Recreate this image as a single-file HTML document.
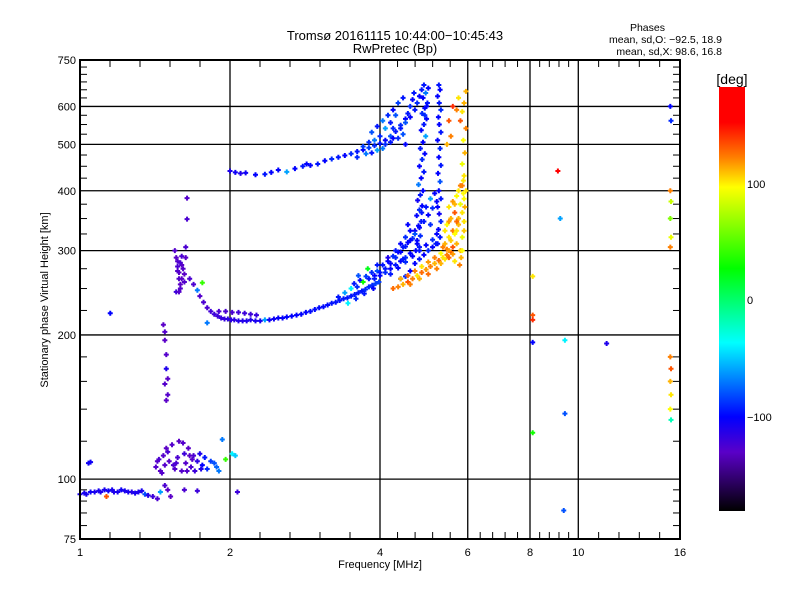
<!DOCTYPE html>
<html><head><meta charset="utf-8"><style>
body{margin:0;background:#fff}
svg{display:block;font-family:"Liberation Sans","DejaVu Sans",sans-serif}
</style></head><body>
<svg id="chart" width="800" height="600" viewBox="0 0 800 600">
<rect width="800" height="600" fill="#fff"/>
<text x="395" y="40" font-size="13" text-anchor="middle">Tromsø 20161115 10:44:00−10:45:43</text>
<text x="395" y="53" font-size="13" text-anchor="middle">RwPretec (Bp)</text>
<g font-size="10.5" text-anchor="end">
<text x="665" y="31">Phases</text>
<text x="722" y="43">mean, sd,O: −92.5, 18.9</text>
<text x="722" y="55">mean, sd,X:  98.6, 16.8</text>
</g>
<g id="grid"></g>
<g id="marks"></g>
<g id="axes"></g>
<text x="380" y="568" font-size="11" text-anchor="middle">Frequency [MHz]</text>
<text transform="translate(48,300) rotate(-90)" font-size="11" text-anchor="middle">Stationary phase Virtual Height [km]</text>
<defs><linearGradient id="cb" x1="0" y1="1" x2="0" y2="0">
<stop offset="0" stop-color="#000"/><stop offset="0.139" stop-color="#5a00c8"/><stop offset="0.222" stop-color="#0000ff"/><stop offset="0.397" stop-color="#00ffff"/><stop offset="0.572" stop-color="#00ff00"/><stop offset="0.764" stop-color="#ffff00"/><stop offset="0.833" stop-color="#ff8000"/><stop offset="0.917" stop-color="#ff0000"/><stop offset="1" stop-color="#ff0000"/>
</linearGradient></defs>
<rect x="719" y="87" width="26" height="424" fill="url(#cb)"/>
<text x="732" y="84" font-size="14" text-anchor="middle">[deg]</text>
<g font-size="11">
<text x="747" y="188">100</text>
<text x="747" y="304">0</text>
<text x="747" y="421">−100</text>
</g>
</svg>
<script>
const xTickValues=[1,2,4,6,8,10,16];
const xTickLabels=["1","2","4","6","8","10","16"];
const yTickValues=[750,600,500,400,300,200,100,75];
const yTickLabels=["750","600","500","400","300","200","100","75"];

const eFreq=[1.00,1.02,1.03,1.05,1.07,1.09,1.10,1.12,1.14,1.16,1.17,1.19,1.21,1.23,1.25,1.27,1.29,1.31,1.33,1.35,1.37,1.40,1.43,1.04,1.05,1.13,1.45,1.15];
const eHeight=[93,93.5,93,94,94,94.5,94,95,94.5,95,94,94,95,94.5,94,94,93.5,94,94.5,93,92.5,92,91,108,108.5,92,94,222];
const ePhase=[-108,-108,-108,-105,-108,-108,-110,-108,-105,-108,-110,-108,-105,-108,-108,-112,-108,-110,-108,-80,-112,-120,-125,-105,-105,130,-60,-100];

const esFreq=[1.42,1.44,1.45,1.47,1.48,1.50,1.51,1.53,1.55,1.57,1.58,1.60,1.62,1.63,1.65,1.67,1.68,1.70,1.72,1.74,1.76,1.78,1.80,1.83,1.86,1.88,1.90,1.93,1.96,2.02,2.05,1.48,1.50,1.52,1.62,1.72,2.07,1.46,1.54,1.64,1.69,1.43,1.49,1.56,1.61,1.66,1.75];
const esHeight=[106,110,104,112,107,114,109,118,105,111,120,104,113,108,116,106,110,104,109,113,107,111,105,109,108,106,104,121,110,113,112,97,95,92,95,94.5,94,103,107,104,112,109,116,108,119,112,105];
const esPhase=[-128,-125,-130,-128,-128,-125,-130,-128,-128,-125,-130,-128,-120,-128,-130,-125,-128,-120,-115,-110,-100,-95,-90,-85,-80,-75,-70,-70,40,-40,-50,-125,-130,-130,-125,-120,-120,-128,-125,-128,-125,-128,-130,-125,-128,-130,-110];

const spFreq=[1.47,1.48,1.48,1.49,1.49,1.50,1.50,1.49,1.48,1.55,1.56,1.57,1.57,1.58,1.58,1.59,1.59,1.60,1.60,1.61,1.62,1.62,1.63,1.63,1.64,1.64,1.56,1.58,1.60,1.57,1.59];
const spHeight=[210,203,195,182,170,162,150,146,158,300,290,285,278,270,262,255,250,292,280,275,268,258,305,290,386,349,246,246,262,272,283];
const spPhase=[-130,-128,-130,-128,-110,-130,-128,-130,-128,-128,-130,-128,-125,-130,-128,-130,-128,-125,-130,-128,-130,-128,-125,-130,-128,-125,-120,-128,-130,-128,-125];

const fFreq=[1.66,1.69,1.72,1.74,1.77,1.80,1.83,1.86,1.89,1.92,1.95,1.98,2.01,2.04,2.08,2.12,2.16,2.20,2.25,2.30,2.35,2.40,2.45,2.50,2.55,2.60,2.66,2.72,2.78,2.84,2.90,2.96,3.02,3.08,3.14,3.20,3.26,3.32,3.38,3.44,3.50,3.56,3.62,3.68,3.74,3.80,3.86,3.92,3.98,1.90,1.96,2.02,2.08,2.14,2.20,2.26,3.30,3.40,3.50,3.55,3.60,3.65,3.70,3.75,3.80,3.85,3.90,3.95,4.00,3.45,3.58,3.72,3.88,3.62,3.78,3.95,1.80,1.76];
const fHeight=[262,255,248,241,234,228,224,221,219,217,216,216,215,215,214,214,214,215,214,214,215,215,216,217,217,218,219,220,221,223,224,226,228,229,231,233,234,236,238,239,241,243,245,247,249,252,254,256,258,224,224,223,223,222,221,220,240,245,250,256,252,260,258,265,262,270,266,272,270,233,238,244,250,266,275,280,212,257];
const fPhase=[-125,-125,-70,-128,-125,-125,-122,-120,-120,-118,-118,-115,-115,-115,-112,-112,-110,-110,-108,-108,-60,-105,-105,-102,-102,-100,-100,-100,-100,-100,-98,-98,-98,-98,-98,-96,-96,-96,-95,-95,-95,-95,-95,-95,-90,-90,-90,-85,-85,-125,-125,-125,-122,-120,-120,-118,-95,-60,-40,-95,-90,-100,30,-85,-95,-90,-100,-80,-95,-40,-90,-95,-100,-80,20,-95,-70,40];

const oFreq=[4.72,4.80,4.75,4.82,4.70,4.78,4.84,4.74,4.80,4.86,4.76,4.82,4.88,4.78,4.84,4.90,4.80,4.86,4.92,4.82,4.88,4.94,4.84,4.90,4.96,4.86,4.92,4.98,4.88,4.94,5.00,4.90,4.96,4.92,5.22,5.28,5.24,5.30,5.26,5.22,5.30,5.25,5.28,5.23,5.30,5.25,5.28,5.22,5.30,5.26,5.24,5.30,5.26,5.22,5.28,5.25,3.90,4.00,4.10,4.20,4.30,4.40,4.50,4.60,4.05,4.15,4.25,4.35,4.45,4.55,4.65,4.70,4.80,4.90,5.00,5.10,5.18,4.60,4.50,4.40];
const oHeight=[300,305,315,322,330,338,345,355,365,372,382,392,400,412,425,438,450,465,478,490,505,520,535,550,565,580,595,610,625,640,655,665,600,575,310,320,332,345,358,370,385,400,418,435,452,470,490,510,530,550,570,590,610,630,650,665,262,266,270,275,280,285,290,296,280,285,292,298,305,312,318,282,288,294,300,305,310,272,265,262];
const oPhase=[-100,-95,-100,-90,-105,-100,-95,-100,-90,-100,-105,-95,-100,-70,-100,-95,-100,-90,-100,-95,-100,-60,-100,-95,-100,-90,-100,-95,-100,-70,-100,-95,-100,-90,-100,-95,-100,-90,-105,-100,-95,-100,-80,-100,-95,-100,-90,-100,-95,-100,-100,-90,-95,-100,-100,-95,-95,-100,-90,-100,-95,-100,-90,-100,-95,-100,-90,-100,-95,-100,-90,-100,-95,-100,-90,-100,-95,-100,-90,-95];

const obFreq=[4.1,4.2,4.3,4.4,4.5,4.6,4.7,4.8,4.9,5.0,5.1,5.2,4.3,4.4,4.5,4.6,4.95,5.05,5.15,4.2,4.35,4.5,4.65,4.8,4.95,5.1,5.2,4.15,4.45,4.75,5.05,4.55,4.85];
const obHeight=[275,282,290,298,306,315,325,335,345,356,368,380,300,310,320,330,370,385,395,268,276,284,292,300,308,316,325,290,288,310,340,340,360];
const obPhase=[-95,-100,-90,-100,-95,-100,-80,-100,-95,-100,-90,-100,-95,-100,-90,-100,-95,-60,-100,-95,-100,-90,-100,-95,-100,-90,-100,-110,-95,-100,-90,-100,-95];

const uFreq=[2.00,2.05,2.10,2.15,2.25,2.35,2.42,2.50,2.60,2.70,2.80,2.90,3.00,3.10,3.20,3.30,3.40,3.50,3.60,3.70,3.80,3.90,4.00,4.10,4.20,4.30,4.40,4.50,4.55,4.60,4.65,4.68,3.90,4.00,4.10,4.20,4.30,4.05,4.20,4.35,4.45,4.50,3.60,3.75,2.85,3.85,3.95,4.25,3.85,3.95,4.05,4.15,4.25,4.35,4.45,4.10,4.25,4.40,4.50,4.60,4.70,4.75,4.80,4.85,3.70,3.80];
const uHeight=[440,437,435,436,432,433,437,442,438,445,450,452,455,462,466,470,474,478,483,487,492,497,502,510,520,532,548,565,580,600,620,640,510,520,540,555,575,490,505,515,525,500,470,478,455,480,486,540,530,545,560,575,590,610,625,500,515,540,555,570,590,610,630,650,495,505];
const uPhase=[-110,-105,-110,-105,-100,-95,-100,-100,-60,-100,-95,-100,-95,-100,-90,-95,-100,-90,-95,-100,-85,-90,-95,-100,-80,-95,-90,-100,-95,-90,-100,-95,-70,-90,-60,-95,-80,-70,-95,-90,-80,-100,-90,-70,-100,-95,-60,-90,-80,-95,-70,-90,-100,-85,-95,-90,-100,-95,-80,-100,-95,-90,-100,-95,-85,-90];

const xFreq=[4.25,4.35,4.45,4.55,4.65,4.75,4.85,4.95,5.05,5.15,5.25,5.35,5.45,5.55,4.40,4.55,4.70,4.85,5.00,5.15,5.30,5.45,5.40,5.50,5.60,5.45,5.55,5.65,5.50,5.60,5.70,5.75,5.80,5.85,5.90,5.92,5.88,5.85,5.70,5.75,5.80,5.35,5.60,5.70,5.90,5.85,5.92,5.88,5.95,5.80,5.85,5.90,5.70,5.60,5.75,5.95,5.50,5.55,5.45,5.78,5.65,5.82,5.2,5.3,5.4,5.5,5.6,5.55,5.65,5.75,5.85,5.9,5.8,5.88,5.65,5.7,5.5,4.6,4.8,5.0,5.4,5.5,5.85,5.9,5.95];
const xHeight=[250,252,255,258,262,266,270,274,278,282,286,290,294,298,262,266,272,278,284,290,296,302,310,320,330,340,350,360,370,380,390,400,300,320,345,370,395,410,330,350,375,305,305,310,430,455,480,510,540,560,585,610,590,600,625,645,560,520,500,280,285,290,275,282,288,290,295,315,325,340,360,385,410,420,375,345,300,255,262,268,330,345,300,330,400];
const xPhase=[125,120,110,130,120,100,125,115,120,110,125,100,120,130,110,125,120,100,115,120,95,120,110,100,120,95,110,130,100,115,95,100,110,90,100,110,95,120,100,110,90,120,130,110,100,90,110,95,120,130,100,110,120,140,100,110,130,120,110,120,100,110,120,110,100,125,115,105,95,110,100,95,120,100,110,125,115,120,110,125,100,115,95,105,100];

const sFreq=[8.1,8.1,8.1,8.1,8.1,9.1,9.2,9.4,9.4,9.35,11.4,15.3,15.35,15.3,15.35,15.3,15.35,15.3,15.3,15.35,15.3,15.35,15.3,15.35];
const sHeight=[265,220,215,193,125,440,350,195,137,86,192,600,560,400,380,350,320,305,180,170,160,150,140,133];
const sPhase=[100,130,140,-100,30,170,-60,-40,-80,-80,-110,-100,-90,120,80,60,90,120,120,130,110,100,95,-20];

const X0=80,X1=680,Y0=539,Y1=60;
function xs(f){return X0+Math.log(f)/Math.log(16)*(X1-X0);}
function ys(h){return Y0-Math.log10(h/75)*(Y0-Y1);}
function col(p){
  const st=[[-180,0,0,0],[-130,90,0,200],[-100,0,0,255],[-37,0,255,255],[26,0,255,0],[95,255,255,0],[120,255,128,0],[150,255,0,0],[180,255,0,0]];
  p=Math.max(-180,Math.min(180,p));
  for(let i=0;i<st.length-1;i++){const a=st[i],b=st[i+1];if(p<=b[0]){const t=(p-a[0])/(b[0]-a[0]);return `rgb(${Math.round(a[1]+t*(b[1]-a[1]))},${Math.round(a[2]+t*(b[2]-a[2]))},${Math.round(a[3]+t*(b[3]-a[3]))})`;}}
  return "red";
}
const NS="http://www.w3.org/2000/svg";
function mk(tag,attrs,parent){const e=document.createElementNS(NS,tag);for(const k in attrs)e.setAttribute(k,attrs[k]);parent.appendChild(e);return e;}
const grid=document.getElementById('grid'),axes=document.getElementById('axes'),marks=document.getElementById('marks');
xTickValues.forEach((v,i)=>{
  const x=xs(v);
  if(v>1&&v<16){const l=mk('line',{x1:x,x2:x,y1:Y1,y2:Y0,stroke:'#000','stroke-width':1.3},grid);
    
    }
  const t=mk('text',{x:x,y:556,'font-size':11,'text-anchor':'middle'},axes);t.textContent=xTickLabels[i];
  
  
  if(i<xTickValues.length-1){const x2=xs(xTickValues[i+1]);for(let k=1;k<5;k++){const xm=x+(x2-x)*k/5;
    mk('line',{x1:xm,x2:xm,y1:Y0,y2:Y0-7,stroke:'#000'},axes);mk('line',{x1:xm,x2:xm,y1:Y1,y2:Y1+7,stroke:'#000'},axes);}}
});
yTickValues.forEach((v,i)=>{
  const y=ys(v);
  if(v>75&&v<750){const l=mk('line',{x1:X0,x2:X1,y1:y,y2:y,stroke:'#000','stroke-width':1.3},grid);
    
    }
  const t=mk('text',{x:76,y:y+4,'font-size':11,'text-anchor':'end'},axes);t.textContent=yTickLabels[i];
  
  
});
[80,85,90,95,120,140,160,180,225,250,275,325,350,375,425,450,475,525,550,575,625,650,675,700,725].forEach(v=>{
  const y=ys(v);mk('line',{x1:X0,x2:X0+7,y1:y,y2:y,stroke:'#000'},axes);mk('line',{x1:X1,x2:X1-7,y1:y,y2:y,stroke:'#000'},axes);
});
const fr=mk('rect',{x:X0,y:Y1,width:X1-X0,height:Y0-Y1,fill:'none',stroke:'#000','stroke-width':2},axes);


const groups=[[eFreq,eHeight,ePhase,'e-layer-point'],[esFreq,esHeight,esPhase,'sporadic-e-point'],[spFreq,spHeight,spPhase,'f1-cusp-point'],[fFreq,fHeight,fPhase,'f-trace-point'],[oFreq,oHeight,oPhase,'o-mode-point'],[obFreq,obHeight,obPhase,'o-band-point'],[uFreq,uHeight,uPhase,'upper-trace-point'],[xFreq,xHeight,xPhase,'x-mode-point'],[sFreq,sHeight,sPhase,'sparse-echo-point']];
groups.forEach(g=>{
  const [F,H,P,name]=g;
  for(let i=0;i<F.length;i++){
    const x=xs(F[i]),y=ys(H[i]);
    const p=mk('path',{d:`M${x-2.5},${y}h5M${x},${y-2.5}v5`,stroke:col(P[i]),'stroke-width':2},marks);
    
    
  }
});
</script>
</body></html>
